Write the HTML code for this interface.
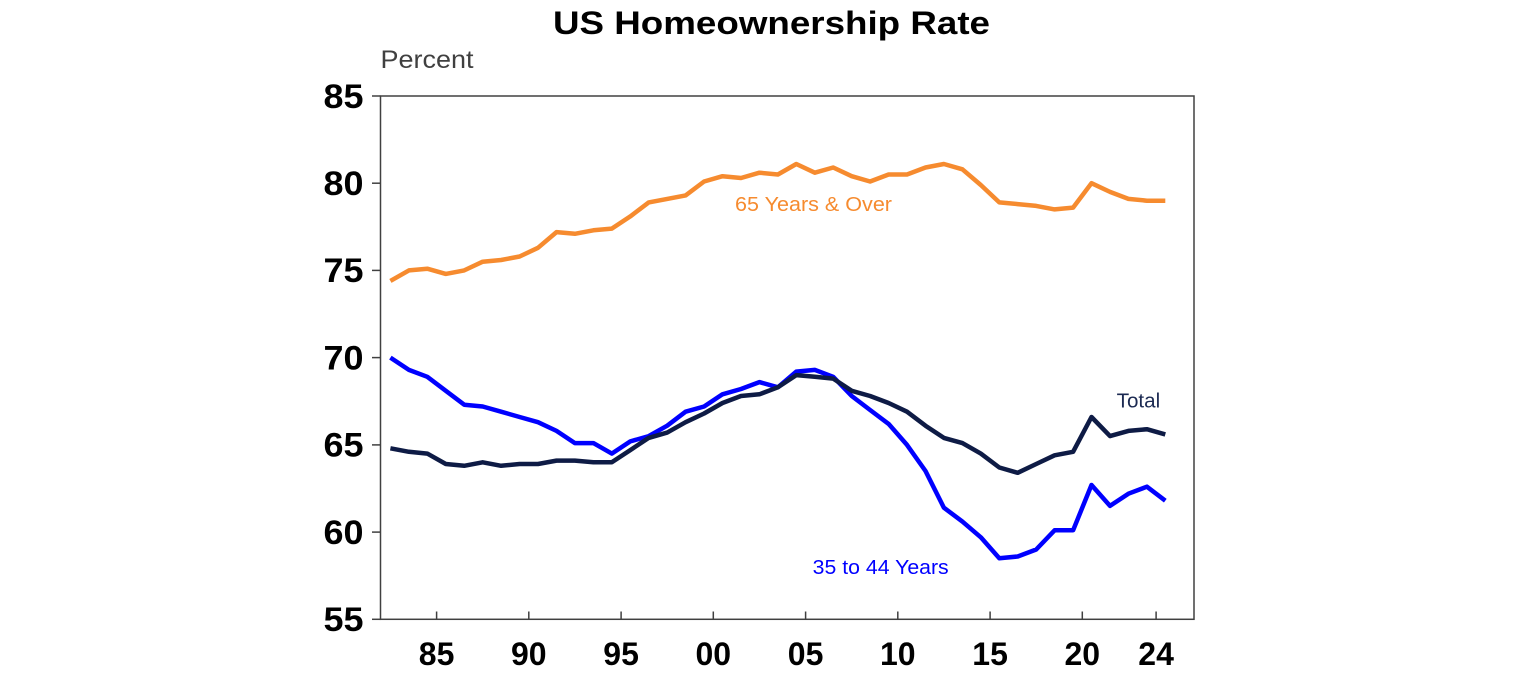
<!DOCTYPE html>
<html>
<head>
<meta charset="utf-8">
<style>
  html, body { margin:0; padding:0; background:#ffffff; }
  body { width:1536px; height:680px; overflow:hidden; }
  svg { display:block; }
  text { font-family: "Liberation Sans", Arial, sans-serif; }
</style>
</head>
<body>
<svg width="1536" height="680" viewBox="0 0 1536 680" xmlns="http://www.w3.org/2000/svg">
  <rect x="0" y="0" width="1536" height="680" fill="#ffffff"/>

  <!-- Title -->
  <text x="771.5" y="34" font-size="32" font-weight="bold" text-anchor="middle" fill="#000" textLength="437" lengthAdjust="spacingAndGlyphs">US Homeownership Rate</text>

  <!-- Axis unit label -->
  <text x="380.5" y="68" font-size="25" fill="#404040" textLength="93" lengthAdjust="spacingAndGlyphs">Percent</text>

  <!-- Plot frame -->
  <rect x="380.5" y="96" width="813.5" height="523.3" fill="none" stroke="#404040" stroke-width="1.5"/>

  <!-- Y ticks -->
  <g stroke="#404040" stroke-width="1.5">
    <line x1="372" y1="96" x2="380.5" y2="96"/>
    <line x1="372" y1="183.2" x2="380.5" y2="183.2"/>
    <line x1="372" y1="270.4" x2="380.5" y2="270.4"/>
    <line x1="372" y1="357.6" x2="380.5" y2="357.6"/>
    <line x1="372" y1="444.9" x2="380.5" y2="444.9"/>
    <line x1="372" y1="532.1" x2="380.5" y2="532.1"/>
    <line x1="372" y1="619.3" x2="380.5" y2="619.3"/>
  </g>

  <!-- Y tick labels -->
  <g font-size="34" font-weight="bold" fill="#000">
    <text x="323.5" y="107.8" textLength="40" lengthAdjust="spacingAndGlyphs">85</text>
    <text x="323.5" y="195" textLength="40" lengthAdjust="spacingAndGlyphs">80</text>
    <text x="323.5" y="282.2" textLength="40" lengthAdjust="spacingAndGlyphs">75</text>
    <text x="323.5" y="369.4" textLength="40" lengthAdjust="spacingAndGlyphs">70</text>
    <text x="323.5" y="456.7" textLength="40" lengthAdjust="spacingAndGlyphs">65</text>
    <text x="323.5" y="543.9" textLength="40" lengthAdjust="spacingAndGlyphs">60</text>
    <text x="323.5" y="631.1" textLength="40" lengthAdjust="spacingAndGlyphs">55</text>
  </g>

  <!-- X ticks (inside, upward) -->
  <g stroke="#404040" stroke-width="1.5">
    <line x1="436.6" y1="611.5" x2="436.6" y2="619.3"/>
    <line x1="528.8" y1="611.5" x2="528.8" y2="619.3"/>
    <line x1="621.1" y1="611.5" x2="621.1" y2="619.3"/>
    <line x1="713.3" y1="611.5" x2="713.3" y2="619.3"/>
    <line x1="805.6" y1="611.5" x2="805.6" y2="619.3"/>
    <line x1="897.8" y1="611.5" x2="897.8" y2="619.3"/>
    <line x1="990.1" y1="611.5" x2="990.1" y2="619.3"/>
    <line x1="1082.3" y1="611.5" x2="1082.3" y2="619.3"/>
    <line x1="1156.1" y1="611.5" x2="1156.1" y2="619.3"/>
  </g>

  <!-- X tick labels -->
  <g font-size="32" font-weight="bold" fill="#000" text-anchor="middle">
    <text x="436.6" y="665">85</text>
    <text x="528.8" y="665">90</text>
    <text x="621.1" y="665">95</text>
    <text x="713.3" y="665">00</text>
    <text x="805.6" y="665">05</text>
    <text x="897.8" y="665">10</text>
    <text x="990.1" y="665">15</text>
    <text x="1082.3" y="665">20</text>
    <text x="1156.1" y="665">24</text>
  </g>

  <!-- 65 Years & Over -->
  <polyline fill="none" stroke="#F68B2F" stroke-width="4.5" stroke-linejoin="round" stroke-linecap="butt"
    points="390.4,280.9 408.9,270.4 427.3,268.7 445.8,273.9 464.2,270.4 482.7,261.7 501.1,260.0 519.6,256.5 538.0,247.8 556.5,232.1 574.9,233.8 593.4,230.3 611.8,228.6 630.3,216.4 648.7,202.4 667.2,198.9 685.6,195.4 704.1,181.5 722.5,176.2 741.0,178.0 759.4,172.7 777.9,174.5 796.3,164.0 814.8,172.7 833.2,167.5 851.7,176.2 870.1,181.5 888.6,174.5 907.0,174.5 925.5,167.5 943.9,164.0 962.4,169.3 980.8,185.0 999.3,202.4 1017.7,204.1 1036.2,205.9 1054.6,209.4 1073.1,207.6 1091.5,183.2 1110.0,191.9 1128.4,198.9 1146.9,200.7 1165.3,200.7"/>

  <!-- 35 to 44 Years -->
  <polyline fill="none" stroke="#0000FF" stroke-width="4.5" stroke-linejoin="round" stroke-linecap="butt"
    points="390.4,357.6 408.9,369.9 427.3,376.8 445.8,390.8 464.2,404.7 482.7,406.5 501.1,411.7 519.6,417.0 538.0,422.2 556.5,430.9 574.9,443.1 593.4,443.1 611.8,453.6 630.3,441.4 648.7,436.1 667.2,425.7 685.6,411.7 704.1,406.5 722.5,394.3 741.0,389.0 759.4,382.1 777.9,387.3 796.3,371.6 814.8,369.9 833.2,376.8 851.7,396.0 870.1,410.0 888.6,423.9 907.0,444.9 925.5,471.0 943.9,507.7 962.4,521.6 980.8,537.3 999.3,558.2 1017.7,556.5 1036.2,549.5 1054.6,530.3 1073.1,530.3 1091.5,485.0 1110.0,505.9 1128.4,493.7 1146.9,486.7 1165.3,500.7"/>

  <!-- Total -->
  <polyline fill="none" stroke="#0E1B45" stroke-width="4.5" stroke-linejoin="round" stroke-linecap="butt"
    points="390.4,448.3 408.9,451.8 427.3,453.6 445.8,464.0 464.2,465.8 482.7,462.3 501.1,465.8 519.6,464.0 538.0,464.0 556.5,460.6 574.9,460.6 593.4,462.3 611.8,462.3 630.3,450.1 648.7,437.9 667.2,432.6 685.6,422.2 704.1,413.5 722.5,403.0 741.0,396.0 759.4,394.3 777.9,387.3 796.3,375.1 814.8,376.8 833.2,378.6 851.7,390.8 870.1,396.0 888.6,403.0 907.0,411.7 925.5,425.7 943.9,437.9 962.4,443.1 980.8,453.6 999.3,467.5 1017.7,472.8 1036.2,464.0 1054.6,455.3 1073.1,451.8 1091.5,417.0 1110.0,436.1 1128.4,430.9 1146.9,429.2 1165.3,434.4"/>

  <!-- Series labels -->
  <text x="735" y="211" font-size="20" fill="#F68B2F" textLength="157" lengthAdjust="spacingAndGlyphs">65 Years &amp; Over</text>
  <text x="812.7" y="574" font-size="20" fill="#0000FF" textLength="136" lengthAdjust="spacingAndGlyphs">35 to 44 Years</text>
  <text x="1116.7" y="407.5" font-size="20" fill="#1C2A52" textLength="43.5" lengthAdjust="spacingAndGlyphs">Total</text>
</svg>
</body>
</html>
